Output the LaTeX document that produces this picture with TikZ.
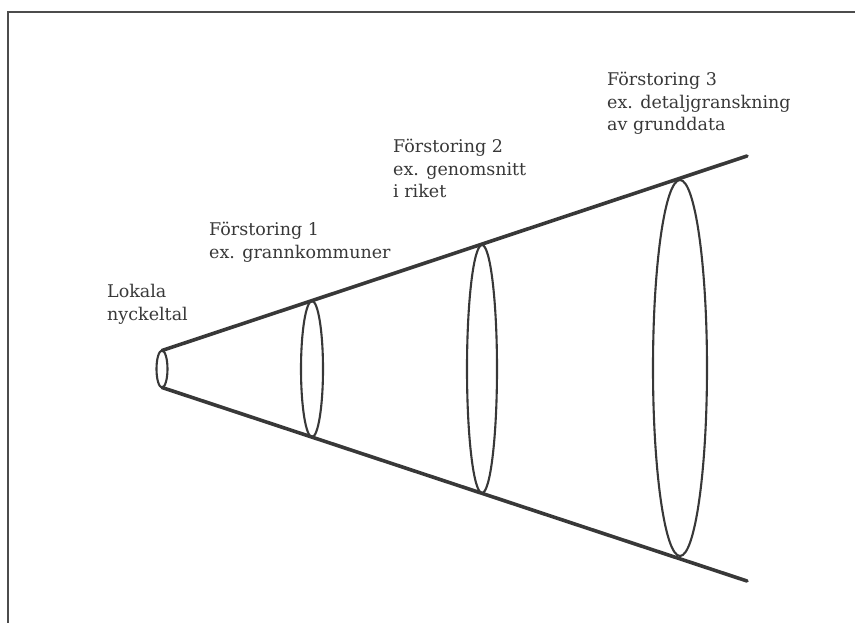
\documentclass[tikz,border=0pt]{standalone}
\usepackage{fontspec}
\setmainfont{DejaVu Serif}
\usetikzlibrary{shapes.geometric, positioning}

% Flerradig text med baslinjen i forsta raden
\newcommand{\rader}[1]{\begin{tabular}[t]{@{}l@{}}#1\end{tabular}}

\begin{document}
\begin{tikzpicture}[
            x=1pt,
            y=-1pt,
            ring/.style={
                draw=black!78,
                ellipse,
                inner sep=0pt,
                outer sep=0pt,
                line width=2.1pt
            },
            cone/.style={
                draw=black!78,
                line width=3.6pt,
                line cap=round
            },
            caption/.style={
                anchor=base west,
                inner sep=0pt,
                text=black!78,
                font=\fontsize{17.5}{22.5}\selectfont
            }
        ]
            \useasboundingbox (0,0) rectangle (855,623);

            % Ram (bara topp och vanster kant syns)
            \coordinate (framebl) at (8,623);
            \coordinate (frametl) at (8,12);
            \coordinate (frametr) at (855,12);
            \draw [draw=black!70, line width=2.8pt] (framebl) -- (frametl) -- (frametr);

            % Ellipserna i tratten
            \node [ring, minimum width=11pt, minimum height=37pt] (lokal) at (162,369) {};
            \node [ring, minimum width=22pt, minimum height=136pt] (forst1) at (312,369) {};
            \node [ring, minimum width=30pt, minimum height=248pt] (forst2) at (482,369) {};
            \node [ring, minimum width=54pt, minimum height=376pt] (forst3) at (680,368) {};

            % Trattens kanter
            \coordinate (topend) at (747,156);
            \coordinate (botend) at (747,581);
            \draw [cone] (lokal.north) -- (topend);
            \draw [cone] (lokal.south) -- (botend);

            % Texter
            \node [caption] (lokaltext) at (107,298) {\rader{Lokala\\nyckeltal}};
            \node [caption] (text1) at (209,236) {\rader{Förstoring 1\\ex. grannkommuner}};
            \node [caption] (text2) at (393,153) {\rader{Förstoring 2\\ex. genomsnitt\\i riket}};
            \node [caption] (text3) at (607,86) {\rader{Förstoring 3\\ex. detaljgranskning\\av grunddata}};
\end{tikzpicture}
\end{document}
